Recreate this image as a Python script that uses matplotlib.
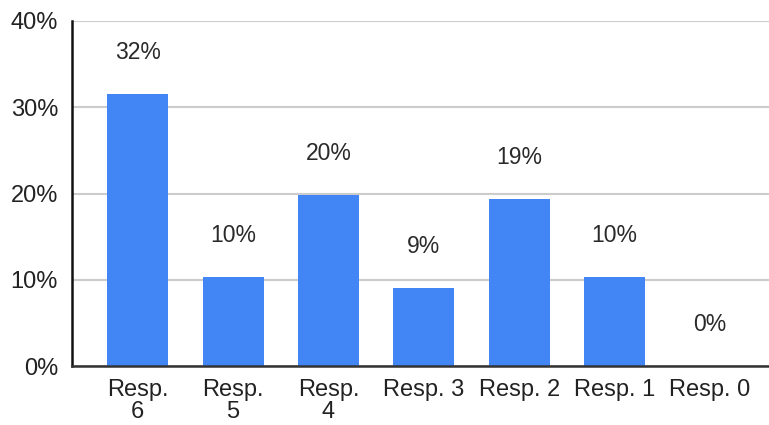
import matplotlib.pyplot as plt
from matplotlib.ticker import FuncFormatter

# Chart data
categories = ["Resp.\n6", "Resp.\n5", "Resp.\n4", "Resp. 3", "Resp. 2", "Resp. 1", "Resp. 0"]
values = [31.5, 10.3, 19.8, 9.0, 19.4, 10.3, 0.0]
labels = ["32%", "10%", "20%", "9%", "19%", "10%", "0%"]
yticks = [0, 10, 20, 30, 40]

plt.rcParams['font.family'] = ['Liberation Sans', 'DejaVu Sans']

fig = plt.figure(figsize=(7.69, 4.25), dpi=100)
ax = fig.add_axes([0.0936, 0.1388, 0.9064, 0.8118])

x = range(len(categories))
bars = ax.bar(x, values, width=0.64, color="#4285F4", zorder=3)

# Value labels above each bar
for bar, lab in zip(bars, labels):
    ax.annotate(lab, (bar.get_x() + bar.get_width() / 2, bar.get_height()),
                xytext=(0, 30), textcoords="offset points",
                ha="center", va="center", fontsize=16.5, color="#2a2a2a")

ax.set_xlim(-0.69, 6.62)
ax.set_ylim(0, 40)
ax.set_yticks(yticks)
ax.yaxis.set_major_formatter(FuncFormatter(lambda v, p: "{:.0f}%".format(v)))
ax.set_xticks(list(x))
ax.set_xticklabels(categories, linespacing=1.02)

ax.tick_params(axis="both", length=0, labelsize=17, labelcolor="#222222")
ax.tick_params(axis="y", pad=10)
ax.tick_params(axis="x", pad=9)

ax.grid(axis="y", color="#cccccc", linewidth=1.5, zorder=0)
for side in ["top", "right"]:
    ax.spines[side].set_visible(False)
ax.spines["left"].set_color("#111111")
ax.spines["left"].set_linewidth(1.8)
ax.spines["bottom"].set_color("#333333")
ax.spines["bottom"].set_linewidth(1.8)
ax.spines["bottom"].set_zorder(4)

fig.savefig("out.png", dpi=100)
